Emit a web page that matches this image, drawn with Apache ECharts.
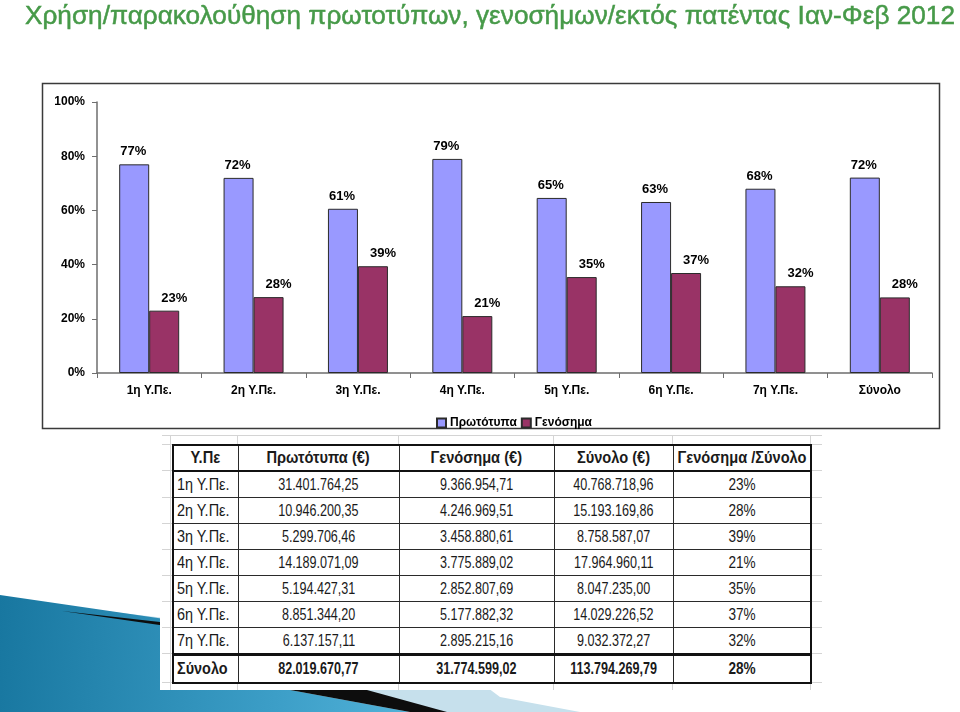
<!DOCTYPE html>
<html>
<head>
<meta charset="utf-8">
<script src="https://cdn.jsdelivr.net/npm/echarts/dist/echarts.min.js"></script>
<style>
  html, body { margin: 0; padding: 0; background: #ffffff; }
  #wrap { position: relative; width: 960px; height: 712px; overflow: hidden; background: #fff; }
  #chart { position: absolute; left: 0; top: 0; width: 960px; height: 712px; }
  #title { position: absolute; left: 25px; top: 0px; font-family: 'Liberation Sans', Arial, sans-serif;
           font-size: 26px; line-height: 30px; color: #479a49; white-space: nowrap; transform-origin: 0 0;
           -webkit-text-stroke: 0.5px #479a49; }
  #tblwrap { position: absolute; left: 160px; top: 435px; width: 662px; height: 255px; background: #fff; }
  .gl { position: absolute; background: #d4d4d4; }
  #tbl { position: absolute; left: 12px; top: 9px; width: 638px; border-collapse: collapse; table-layout: fixed;
         font-family: 'Liberation Sans', Arial, sans-serif; font-size: 17px; color: #1a1a1a; }
  #tbl td, #tbl th { border: 1px solid #2a2a2a; text-align: center; padding: 0; background: #fff; white-space: nowrap; overflow: visible; }
  #tbl th { font-weight: bold; height: 24px; border-top: 2px solid #111; border-bottom: 2px solid #111; }
  #tbl td { height: 25px; }
  #tbl td.first { text-align: left; padding-left: 3px; }
  #tbl tr.total td { font-weight: bold; height: 26px; border-top: 3px solid #111; border-bottom: 2px solid #111; }
  #tbl tr > :first-child { border-left: 2px solid #111; }
  #tbl tr > :last-child { border-right: 2px solid #111; }
  #tbl span { display: inline-block; }
  #tbl span.num { transform: scaleX(0.74); margin: 0 -40px; }
  #tbl span.txt { transform: scaleX(0.85); transform-origin: 0 50%; }
  #tbl span.hd { transform: scaleX(0.86); margin: 0 -40px; }
  #tbl th:first-child span.hd { margin: 0 -10px; }
  #tbl span.pc { transform: scaleX(0.8); margin: 0 -20px; }
</style>
</head>
<body>
<div id="wrap">
  <div id="chart"></div>
  <div id="title">Χρήση/παρακολούθηση πρωτοτύπων, γενοσήμων/εκτός πατέντας Ιαν-Φεβ 2012</div>
  <div id="tblwrap"><table id="tbl"></table></div>
</div>
<script>
// ---- chart data ----
const categories = ['1η Υ.Πε.', '2η Υ.Πε.', '3η Υ.Πε.', '4η Υ.Πε.', '5η Υ.Πε.', '6η Υ.Πε.', '7η Υ.Πε.', 'Σύνολο'];
const seriesNames = ['Πρωτότυπα', 'Γενόσημα'];
const protoShare = [0.770, 0.720, 0.606, 0.790, 0.646, 0.631, 0.680, 0.721];
const genericShare = [0.230, 0.280, 0.394, 0.210, 0.354, 0.369, 0.320, 0.279];
const yTicks = [0, 0.2, 0.4, 0.6, 0.8, 1.0];

// ---- table data ----
const tableHeader = ['Υ.Πε', 'Πρωτότυπα (€)', 'Γενόσημα (€)', 'Σύνολο (€)', 'Γενόσημα /Σύνολο'];
const tableRegions = ['1η Υ.Πε.', '2η Υ.Πε.', '3η Υ.Πε.', '4η Υ.Πε.', '5η Υ.Πε.', '6η Υ.Πε.', '7η Υ.Πε.', 'Σύνολο'];
const tableProto = ['31.401.764,25', '10.946.200,35', '5.299.706,46', '14.189.071,09', '5.194.427,31', '8.851.344,20', '6.137.157,11', '82.019.670,77'];
const tableGeneric = ['9.366.954,71', '4.246.969,51', '3.458.880,61', '3.775.889,02', '2.852.807,69', '5.177.882,32', '2.895.215,16', '31.774.599,02'];
const tableTotal = ['40.768.718,96', '15.193.169,86', '8.758.587,07', '17.964.960,11', '8.047.235,00', '14.029.226,52', '9.032.372,27', '113.794.269,79'];
const tableRatio = ['23%', '28%', '39%', '21%', '35%', '37%', '32%', '28%'];

// ---- title fit ----
(function () {
  const t = document.getElementById('title');
  const w = t.getBoundingClientRect().width;
  t.style.transform = 'scaleX(' + (930 / w) + ')';
})();

// ---- table build ----
(function () {
  const tbl = document.getElementById('tbl');
  const colW = [65, 161, 155, 119, 138];
  const s = (cls, t) => '<span class="' + cls + '">' + t + '</span>';
  let html = '<colgroup>' + colW.map(w => '<col style="width:' + w + 'px">').join('') + '</colgroup>';
  html += '<tr>' + tableHeader.map(h => '<th>' + s('hd', h) + '</th>').join('') + '</tr>';
  for (let i = 0; i < tableRegions.length; i++) {
    const cls = i === tableRegions.length - 1 ? ' class="total"' : '';
    html += '<tr' + cls + '><td class="first">' + s('txt', tableRegions[i]) + '</td><td>' + s('num', tableProto[i]) + '</td><td>' +
      s('num', tableGeneric[i]) + '</td><td>' + s('num', tableTotal[i]) + '</td><td>' + s('pc', tableRatio[i]) + '</td></tr>';
  }
  tbl.innerHTML = html;
  // faint spreadsheet gridlines around the table
  const wrap = document.getElementById('tblwrap');
  const xs = [10, 77, 238, 393, 512, 650];
  xs.forEach(x => { const d = document.createElement('div'); d.className = 'gl';
    d.style.left = x + 'px'; d.style.top = '0px'; d.style.width = '1px'; d.style.height = '255px'; wrap.insertBefore(d, tbl); });
  const ys = [0, 9, 35, 62, 88, 114, 140, 166, 192, 218, 247];
  ys.forEach(y => { const d = document.createElement('div'); d.className = 'gl';
    d.style.left = '2px'; d.style.top = y + 'px'; d.style.width = '660px'; d.style.height = '1px'; wrap.insertBefore(d, tbl); });
})();

// ---- chart ----
const chart = echarts.init(document.getElementById('chart'), null, { renderer: 'canvas' });
const font = "'Liberation Sans', Arial, sans-serif";
const pct = v => Math.round(v * 100) + '%';
chart.setOption({
  animation: false,
  backgroundColor: 'transparent',
  graphic: [
    { type: 'polygon', z: -20, silent: true,
      shape: { points: [[60, 606], [480, 654], [480, 682], [500, 697], [580, 712], [0, 712]] },
      style: { fill: '#c6e0ec' } },
    { type: 'polygon', z: -19, silent: true,
      shape: { points: [[0, 595], [480, 665], [480, 690], [290, 690], [410, 712], [0, 712]] },
      style: { fill: new echarts.graphic.LinearGradient(0, 0, 1, 0.3, [
        { offset: 0, color: '#1877a0' }, { offset: 0.6, color: '#3d9fc8' }, { offset: 1, color: '#5cbbe0' }]) } },
    { type: 'polygon', z: -18, silent: true,
      shape: { points: [[62, 611], [480, 658], [480, 671]] },
      style: { fill: '#0d0d0d' } },
    { type: 'polygon', z: -18, silent: true,
      shape: { points: [[290, 690], [367, 690], [447, 712], [410, 712]] },
      style: { fill: '#0d0d0d' } },
    { type: 'rect', z: -10, silent: true,
      shape: { x: 42.5, y: 83.5, width: 897, height: 345 },
      style: { fill: '#ffffff', stroke: '#3a3a3a', lineWidth: 1.5 } }
  ],
  grid: { left: 97, right: 28, top: 102, bottom: 339, containLabel: false },
  legend: {
    data: seriesNames, left: 431, top: 412, itemWidth: 9, itemHeight: 9, itemGap: 4,
    icon: 'rect',
    textStyle: { fontFamily: font, fontWeight: 'bold', fontSize: 12, color: '#000', padding: [0, 0, 0, -1] }
  },
  xAxis: {
    type: 'category', data: categories,
    axisLine: { lineStyle: { color: '#6e6e6e', width: 1.5 } },
    axisTick: { show: true, interval: 0, length: 5, lineStyle: { color: '#6e6e6e' } },
    axisLabel: { interval: 0, margin: 12, fontFamily: font, fontWeight: 'bold', fontSize: 12, color: '#000' }
  },
  yAxis: {
    type: 'value', min: 0, max: 1, interval: 0.2,
    axisLine: { show: true, lineStyle: { color: '#6e6e6e', width: 1.5 } },
    axisTick: { show: true, length: 5, lineStyle: { color: '#6e6e6e' } },
    splitLine: { show: false },
    axisLabel: { margin: 12, formatter: v => pct(v), fontFamily: font, fontWeight: 'bold', fontSize: 12, color: '#000' }
  },
  series: [
    { name: seriesNames[0], type: 'bar', data: protoShare, barWidth: 30, barGap: '0%',
      itemStyle: { color: '#9999ff', borderColor: '#2b2b2b', borderWidth: 1 },
      label: { show: true, position: 'top', distance: 6, offset: [-1, 0], formatter: p => pct(p.value),
               fontFamily: font, fontWeight: 'bold', fontSize: 13, color: '#000' } },
    { name: seriesNames[1], type: 'bar', data: genericShare, barWidth: 30, barGap: '0%',
      itemStyle: { color: '#993366', borderColor: '#2b2b2b', borderWidth: 1 },
      label: { show: true, position: 'top', distance: 6, offset: [10, 0], formatter: p => pct(p.value),
               fontFamily: font, fontWeight: 'bold', fontSize: 13, color: '#000' } }
  ]
});
</script>
</body>
</html>
